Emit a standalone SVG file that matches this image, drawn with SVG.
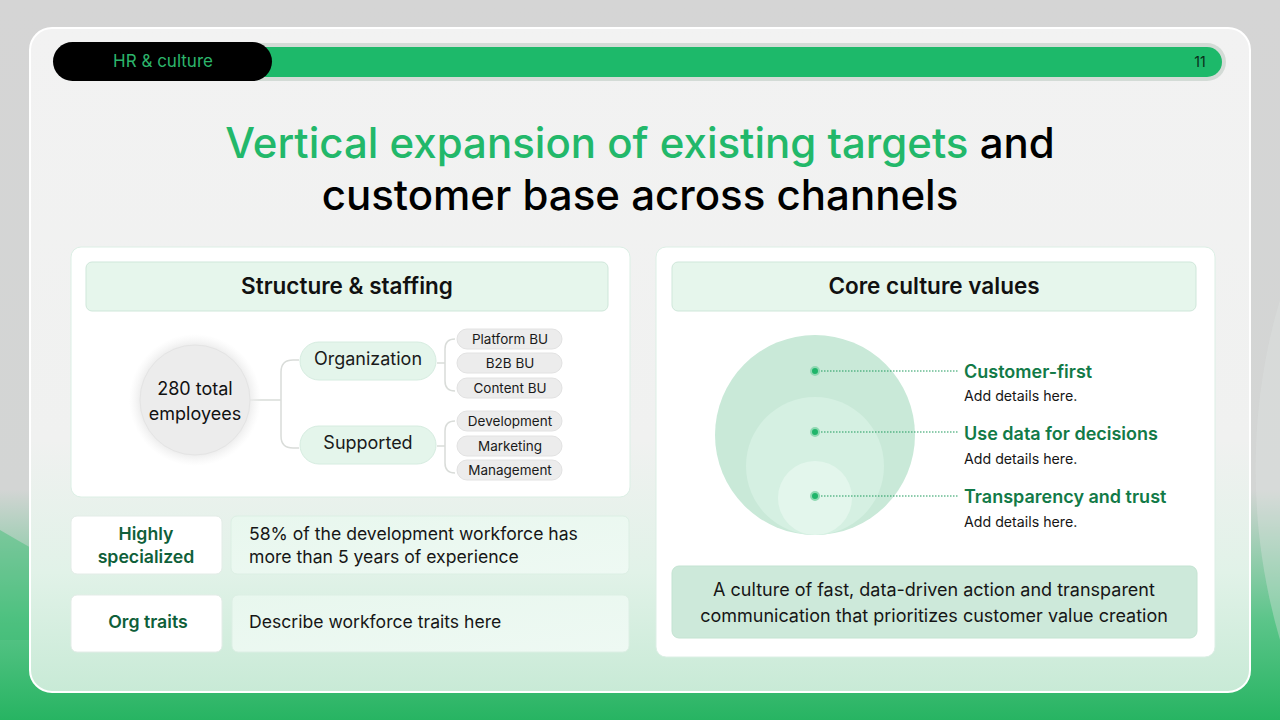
<svg xmlns="http://www.w3.org/2000/svg" width="1280" height="720" viewBox="0 0 1280 720">
<defs>
<linearGradient id="bg" x1="0" y1="0" x2="0" y2="1">
<stop offset="0" stop-color="#d5d5d5"/>
<stop offset="0.68" stop-color="#d3d5d4"/>
<stop offset="0.86" stop-color="#5cc58a"/>
<stop offset="1" stop-color="#27b462"/>
</linearGradient>
<linearGradient id="card" x1="0" y1="0" x2="0" y2="1">
<stop offset="0" stop-color="#f2f2f2"/>
<stop offset="0.62" stop-color="#f0f1f0"/>
<stop offset="0.82" stop-color="#e1f2e8"/>
<stop offset="1" stop-color="#c8ead6"/>
</linearGradient>
<linearGradient id="val" x1="0" y1="0" x2="1" y2="1">
<stop offset="0" stop-color="#e8f7ee"/>
<stop offset="1" stop-color="#eef9f3"/>
</linearGradient>
<radialGradient id="halo" cx="0.5" cy="0.5" r="0.5">
<stop offset="0.8" stop-color="#e9e9e9"/>
<stop offset="1" stop-color="#f2f2f2" stop-opacity="0"/>
</radialGradient>
<style>
.t{font-family:Inter,"DM Sans","Noto Sans",sans-serif;}
.hdr{font-size:22.5px;font-weight:600;fill:#111;text-anchor:middle;}
.pill{fill:#e4f5eb;stroke:#d6ece0;stroke-width:1;}
.pilltxt{font-size:18px;fill:#1a1a1a;text-anchor:middle;}
.chip{fill:#ececec;stroke:#e2e2e2;stroke-width:1;}
.chiptxt{font-size:13.5px;fill:#1a1a1a;text-anchor:middle;}
.lbl{font-size:17.7px;font-weight:600;fill:#0f5f3a;text-anchor:middle;}
.valtxt{font-size:17.6px;fill:#161616;}
.cv{font-size:18px;font-weight:600;fill:#127a47;}
.det{font-size:14.2px;fill:#151515;}
.conn{fill:none;stroke:#d9dcd9;stroke-width:1.5;}
.dot{fill:#1fb56a;stroke:#8fd9b2;stroke-width:2;}
.dotline{stroke:#1f9a5c;stroke-width:1.2;stroke-dasharray:1.5 1.5;}
</style>
</defs>

<rect x="0" y="0" width="1280" height="720" fill="url(#bg)"/>
<path d="M0 530 C60 565 120 600 260 640 L0 640 Z" fill="#3cbc74" opacity="0.45"/>
<path d="M1280 300 C1250 400 1245 520 1280 640 Z" fill="#e0e5e2" opacity="0.35"/>

<rect x="30" y="28" width="1220" height="664" rx="22" fill="url(#card)" stroke="#ffffff" stroke-width="2"/>

<g id="header">
<rect x="56" y="43" width="1170" height="38" rx="19" fill="#d3dbd6"/>
<rect x="60" y="47" width="1162" height="30" rx="15" fill="#1db96a"/>
<rect x="53" y="42" width="219" height="39" rx="19.5" fill="#000"/>
<text class="t" x="163" y="67" font-size="17" fill="#2cb56b" text-anchor="middle">HR &amp; culture</text>
<text class="t" x="1200" y="67" font-size="14" fill="#0a2a18" text-anchor="middle">11</text>
</g>

<g id="title">
<text class="t" x="640" y="158" font-size="42" font-weight="500" text-anchor="middle"><tspan fill="#22b86a">Vertical expansion of existing targets</tspan><tspan fill="#000"> and</tspan></text>
<text class="t" x="640" y="210" font-size="42" font-weight="500" fill="#000" text-anchor="middle">customer base across channels</text>
</g>

<g id="panel-left">
<rect x="71" y="247" width="559" height="250" rx="10" fill="#fff" stroke="#dcefe5"/>
<rect x="86" y="262" width="522" height="49" rx="6" fill="#e6f6ec" stroke="#cfe7da"/>
<text class="t hdr" x="347" y="294">Structure &amp; staffing</text>
</g>

<g id="connectors">
<path class="conn" d="M249 400 H281"/>
<path class="conn" d="M299 360 H293 Q281 360 281 372 V436 Q281 448 293 448 H299"/>
<path class="conn" d="M437 363 H445"/>
<path class="conn" d="M455 339 Q445 339 445 349 V381 Q445 391 455 391"/>
<path class="conn" d="M437 446 H445"/>
<path class="conn" d="M455 421 Q445 421 445 431 V463 Q445 473 455 473"/>
</g>

<g id="node-total">
<circle cx="195" cy="400" r="66" fill="url(#halo)"/>
<circle cx="195" cy="400" r="55" fill="#ececec" stroke="#e4e4e4"/>
<text class="t" x="195" y="395" font-size="18" fill="#111" text-anchor="middle">280 total</text>
<text class="t" x="195" y="420" font-size="18" fill="#111" text-anchor="middle">employees</text>
</g>

<g id="node-organization">
<rect class="pill" x="300" y="342" width="136" height="38" rx="19"/>
<text class="t pilltxt" x="368" y="365">Organization</text>
</g>
<g id="node-supported">
<rect class="pill" x="300" y="426" width="136" height="38" rx="19"/>
<text class="t pilltxt" x="368" y="449">Supported</text>
</g>

<g id="node-platform"><rect class="chip" x="457" y="329" width="105" height="20" rx="10"/><text class="t chiptxt" x="510" y="344">Platform BU</text></g>
<g id="node-b2b"><rect class="chip" x="457" y="353" width="105" height="20" rx="10"/><text class="t chiptxt" x="510" y="368">B2B BU</text></g>
<g id="node-content"><rect class="chip" x="457" y="378" width="105" height="20" rx="10"/><text class="t chiptxt" x="510" y="393">Content BU</text></g>
<g id="node-development"><rect class="chip" x="457" y="411" width="105" height="20" rx="10"/><text class="t chiptxt" x="510" y="426">Development</text></g>
<g id="node-marketing"><rect class="chip" x="457" y="436" width="105" height="20" rx="10"/><text class="t chiptxt" x="510" y="451">Marketing</text></g>
<g id="node-management"><rect class="chip" x="457" y="460" width="105" height="20" rx="10"/><text class="t chiptxt" x="510" y="475">Management</text></g>

<g id="row-specialized">
<rect x="71" y="516" width="151" height="58" rx="6" fill="#fff" stroke="#e3ece7"/>
<text class="t lbl" x="146" y="540">Highly</text>
<text class="t lbl" x="146" y="563">specialized</text>
<rect x="231" y="516" width="398" height="58" rx="6" fill="url(#val)" stroke="#dcefe4"/>
<text class="t valtxt" x="249" y="540">58% of the development workforce has</text>
<text class="t valtxt" x="249" y="563">more than 5 years of experience</text>
</g>

<g id="row-traits">
<rect x="71" y="595" width="151" height="57" rx="6" fill="#fff" stroke="#e3ece7"/>
<text class="t lbl" x="148" y="628">Org traits</text>
<rect x="232" y="595" width="397" height="57" rx="6" fill="url(#val)" stroke="#dcefe4"/>
<text class="t valtxt" x="249" y="628">Describe workforce traits here</text>
</g>

<g id="panel-right">
<rect x="656" y="247" width="559" height="410" rx="10" fill="#fff" stroke="#dcefe5"/>
<rect x="672" y="262" width="524" height="49" rx="6" fill="#e6f6ec" stroke="#cfe7da"/>
<text class="t hdr" x="934" y="294">Core culture values</text>
</g>

<g id="circles">
<circle cx="815" cy="435" r="100" fill="#c9e9d8"/>
<circle cx="815" cy="466" r="69" fill="#d5f0e2"/>
<circle cx="815" cy="498" r="37" fill="#e3f6ec"/>
</g>

<g id="value-customer">
<line class="dotline" x1="818" y1="371" x2="958" y2="371"/>
<circle class="dot" cx="815" cy="371" r="4"/>
<text class="t cv" x="964" y="378">Customer-first</text>
<text class="t det" x="964" y="401">Add details here.</text>
</g>
<g id="value-data">
<line class="dotline" x1="818" y1="432" x2="958" y2="432"/>
<circle class="dot" cx="815" cy="432" r="4"/>
<text class="t cv" x="964" y="440">Use data for decisions</text>
<text class="t det" x="964" y="464">Add details here.</text>
</g>
<g id="value-trust">
<line class="dotline" x1="818" y1="496" x2="958" y2="496"/>
<circle class="dot" cx="815" cy="496" r="4"/>
<text class="t cv" x="964" y="503">Transparency and trust</text>
<text class="t det" x="964" y="527">Add details here.</text>
</g>

<g id="summary">
<rect x="672" y="566" width="525" height="72" rx="7" fill="#cde9da" stroke="#c4e3d2"/>
<text class="t" x="934" y="596" font-size="18" fill="#161616" text-anchor="middle">A culture of fast, data-driven action and transparent</text>
<text class="t" x="934" y="622" font-size="18" fill="#161616" text-anchor="middle">communication that prioritizes customer value creation</text>
</g>
</svg>
